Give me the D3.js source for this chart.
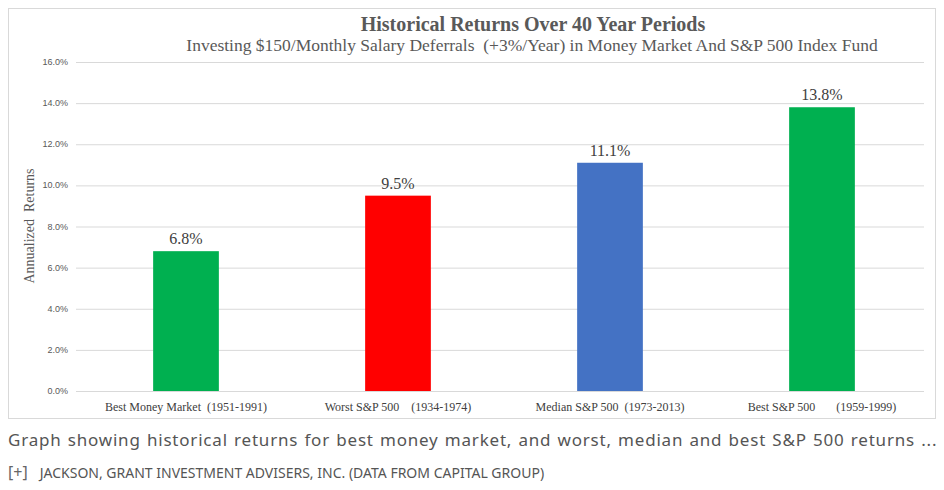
<!DOCTYPE html>
<html lang="en">
<head>
<meta charset="UTF-8">
<script src="https://d3js.org/d3.v7.min.js"></script>
<style>
  body { margin: 0; background: #fff; font-family: "Noto Sans", sans-serif; }
  .caption { position: absolute; left: 8px; top: 428px; font-size: 17px; letter-spacing: 0.8px; word-spacing: 1px; color: #555; white-space: nowrap; }
  .source { position: absolute; left: 8px; top: 461px; font-size: 14px; color: #555; white-space: nowrap; }
  .source b { font-weight: normal; font-size: 16px; margin-right: 12px; color: #666; }
</style>
</head>
<body>
<div id="chart"></div>
<div class="caption">Graph showing historical returns for best money market, and worst, median and best S&amp;P 500 returns ...</div>
<div class="source"><b>[+]</b>JACKSON, GRANT INVESTMENT ADVISERS, INC. (DATA FROM CAPITAL GROUP)</div>
<script>
const categories = ["Best Money Market  (1951-1991)", "Worst S&P 500    (1934-1974)", "Median S&P 500  (1973-2013)", "Best S&P 500       (1959-1999)"];
const values = [6.8, 9.5, 11.1, 13.8];
const colors = ["#00b050", "#ff0000", "#4472c4", "#00b050"];
const ticks = [0, 2, 4, 6, 8, 10, 12, 14, 16];

const svg = d3.select("#chart").append("svg").attr("width", 944).attr("height", 425);
svg.append("rect").attr("x", 8.5).attr("y", 8.5).attr("width", 927).attr("height", 410)
  .attr("fill", "#fff").attr("stroke", "#d9d9d9");

const x = d3.scaleBand().domain(categories).range([80, 928]).paddingInner(0.69).paddingOuter(0.345);
const y = d3.scaleLinear().domain([0, 16]).range([391, 62]);
const serif = "'Liberation Serif', 'DejaVu Serif', serif";

svg.append("g").selectAll("line").data(ticks).join("line")
  .attr("x1", 76).attr("x2", 924).attr("y1", d => y(d) + 0.5).attr("y2", d => y(d) + 0.5)
  .attr("stroke", "#d9d9d9");
svg.append("g").selectAll("text").data(ticks).join("text")
  .attr("x", 68).attr("y", d => y(d) + 3).attr("text-anchor", "end")
  .attr("font-size", 9).attr("fill", "#595959").attr("font-family", "'Liberation Sans', sans-serif")
  .text(d => d.toFixed(1) + "%");

svg.append("g").selectAll("rect").data(values).join("rect")
  .attr("x", (d, i) => x(categories[i])).attr("width", x.bandwidth())
  .attr("y", d => y(d)).attr("height", d => y(0) - y(d))
  .attr("fill", (d, i) => colors[i]);
svg.append("g").selectAll("text").data(values).join("text")
  .attr("x", (d, i) => x(categories[i]) + x.bandwidth() / 2).attr("y", d => y(d) - 7)
  .attr("text-anchor", "middle").attr("font-size", 16).attr("font-family", serif).attr("fill", "#404040")
  .text(d => d.toFixed(1) + "%");

svg.append("g").selectAll("text").data(categories).join("text")
  .attr("x", d => x(d) + x.bandwidth() / 2).attr("y", 411)
  .attr("text-anchor", "middle").attr("font-size", 12).attr("font-family", serif).attr("fill", "#404040")
  .attr("xml:space", "preserve").style("white-space", "pre")
  .text(d => d);

svg.append("text").attr("transform", "translate(34,226) rotate(-90)").attr("text-anchor", "middle")
  .attr("font-size", 14).attr("font-family", serif).attr("fill", "#595959")
  .attr("xml:space", "preserve").style("white-space", "pre").text("Annualized  Returns");

svg.append("text").attr("x", 533).attr("y", 31).attr("text-anchor", "middle")
  .attr("font-size", 20).attr("font-weight", "bold").attr("font-family", serif).attr("fill", "#595959")
  .text("Historical Returns Over 40 Year Periods");
svg.append("text").attr("x", 532).attr("y", 51).attr("text-anchor", "middle")
  .attr("font-size", 17.5).attr("font-family", serif).attr("fill", "#595959")
  .attr("xml:space", "preserve").style("white-space", "pre")
  .text("Investing $150/Monthly Salary Deferrals  (+3%/Year) in Money Market And S&P 500 Index Fund");
</script>
</body>
</html>
